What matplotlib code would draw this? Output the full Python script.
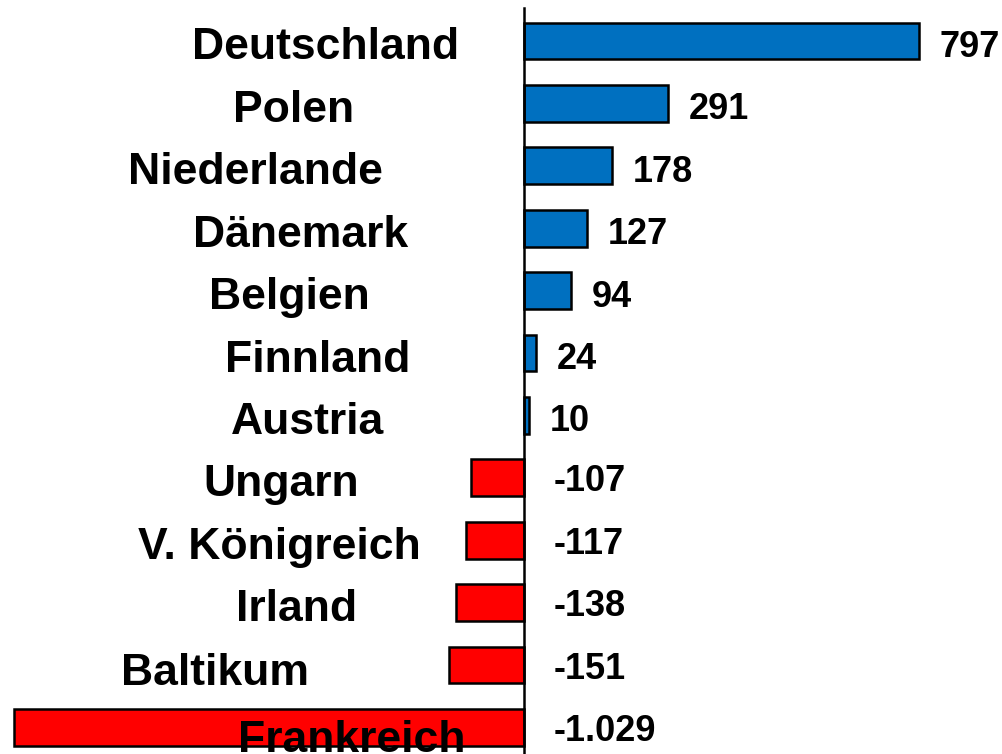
import matplotlib
matplotlib.use('Agg')
import matplotlib.pyplot as plt

# data, top to bottom
countries = ['Deutschland', 'Polen', 'Niederlande', 'Dänemark', 'Belgien', 'Finnland',
             'Austria', 'Ungarn', 'V. Königreich', 'Irland', 'Baltikum', 'Frankreich']
values = [797, 291, 178, 127, 94, 24, 10, -107, -117, -138, -151, -1029]

# hand placed label centres (data units on the x axis), like the original slide
label_x = [-400, -465, -541, -451, -474, -417, -437, -489, -493, -458, -624, -348]
label_dy = [0.04, 0.04, 0.04, 0.04, 0.04, 0.04, 0.04, 0.04, 0.04, 0.04, 0.06, 0.14]

blue = '#0070C0'
red = '#FF0000'

plt.rcParams['font.family'] = ['Liberation Sans', 'DejaVu Sans']
plt.rcParams['font.weight'] = 'bold'

fig = plt.figure(figsize=(10.03, 7.54), dpi=100)
ax = fig.add_axes([0, 0, 1, 1])
ax.set_xlim(-1057.3, 966.5)
ax.set_ylim(11.426, -0.657)
ax.axis('off')

ypos = list(range(len(values)))
colors = [blue if v > 0 else red for v in values]
ax.barh(ypos, values, height=0.59, color=colors, edgecolor='black', linewidth=1.8, zorder=2)

# zero line
ax.plot([0, 0], [-0.53, 11.426], color='black', linewidth=1.8, zorder=3)

for i, (name, v) in enumerate(zip(countries, values)):
    ax.text(label_x[i], i + label_dy[i], name, fontsize=32, ha='center', va='center_baseline',
            fontweight='bold', zorder=4)
    txt = f"{v:,}".replace(",", ".")
    if v > 0:
        ax.text(v + 42, i + 0.04, txt, fontsize=26, ha='left', va='center_baseline', fontweight='bold')
    else:
        ax.text(60, i, txt, fontsize=26, ha='left', va='center_baseline', fontweight='bold')

plt.savefig('out.png', dpi=100)
plt.close()
